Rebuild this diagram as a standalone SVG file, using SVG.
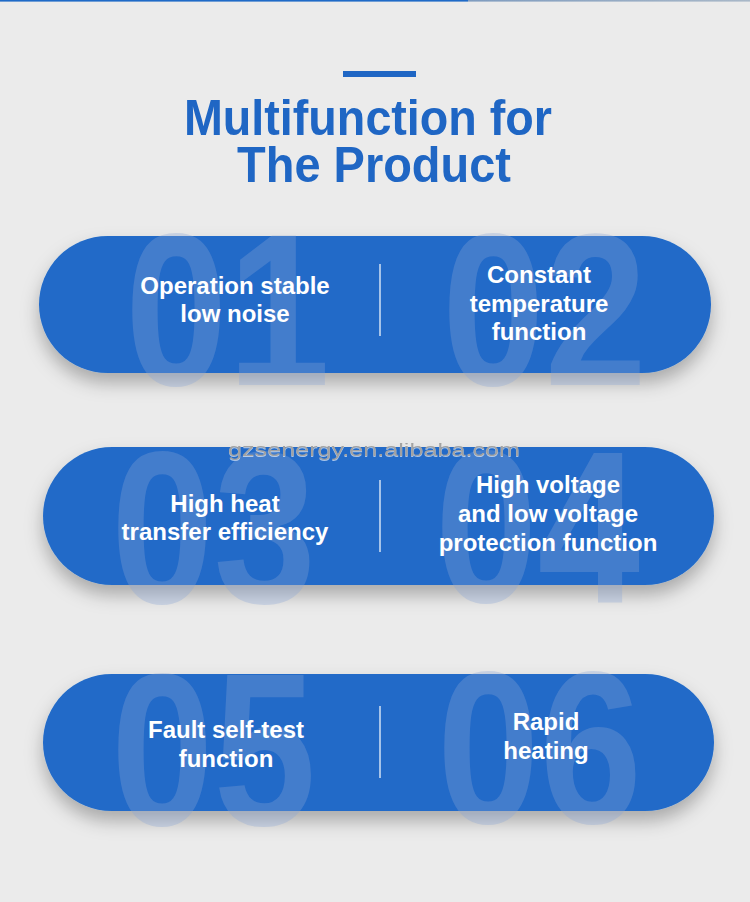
<svg xmlns="http://www.w3.org/2000/svg" width="750" height="902" viewBox="0 0 750 902">
<defs>
<linearGradient id="topfade" x1="0" y1="0" x2="1" y2="0">
<stop offset="0" stop-color="#7f9cbf"/>
<stop offset="1" stop-color="#a9b8c8"/>
</linearGradient>
<filter id="shadow" x="-10%" y="-20%" width="120%" height="160%">
<feDropShadow dx="0" dy="10" stdDeviation="9" flood-color="#000" flood-opacity="0.28"/>
</filter>
<filter id="wm" x="-5%" y="-30%" width="110%" height="160%">
<feDropShadow dx="0" dy="1" stdDeviation="0.6" flood-color="#ffffff" flood-opacity="0.6"/>
</filter>
<style>
.pill{fill:#216bc8;filter:url(#shadow);}
.num{font-family:"Liberation Sans",Arial,sans-serif;font-weight:bold;font-size:218px;fill:#8aa6d8;fill-opacity:0.32;}
.lbl{font-family:"Liberation Sans",Arial,sans-serif;font-weight:bold;font-size:24px;fill:#ffffff;text-anchor:middle;}
.div{stroke:#ffffff;stroke-width:1.2;}
.title{font-family:"Liberation Sans",Arial,sans-serif;font-weight:bold;font-size:50px;fill:#1f66c4;text-anchor:middle;}
</style>
</defs>
<rect x="0" y="0" width="750" height="902" fill="#ebebeb"/>
<rect x="0" y="0" width="468" height="1.6" fill="#1f6ac7"/>
<rect x="468" y="0" width="282" height="1.6" fill="url(#topfade)"/>

<g id="header">
<rect x="343" y="71" width="73" height="6" fill="#1f66c4"/>
<text class="title" x="368" y="135" textLength="368" lengthAdjust="spacingAndGlyphs">Multifunction for</text>
<text class="title" x="374" y="182" textLength="274" lengthAdjust="spacingAndGlyphs">The Product</text>
</g>

<g id="row1">
<rect class="pill" x="39" y="236" width="672" height="137" rx="68.5"/>
<g id="f01">
<text class="num" x="125" y="385" textLength="205" lengthAdjust="spacingAndGlyphs">01</text>
<text class="lbl" x="235" y="294">Operation stable</text>
<text class="lbl" x="235" y="322">low noise</text>
</g>
<line class="div" x1="380" y1="264" x2="380" y2="336"/>
<g id="f02">
<text class="num" x="442" y="385" textLength="205" lengthAdjust="spacingAndGlyphs">02</text>
<text class="lbl" x="539" y="283">Constant</text>
<text class="lbl" x="539" y="311.5">temperature</text>
<text class="lbl" x="539" y="340">function</text>
</g>
</g>

<g id="row2">
<rect class="pill" x="43" y="447" width="671" height="138" rx="69"/>
<g id="f03">
<text class="num" x="111" y="603" textLength="205" lengthAdjust="spacingAndGlyphs">03</text>
<text class="lbl" x="225" y="511.5">High heat</text>
<text class="lbl" x="225" y="540">transfer efficiency</text>
</g>
<line class="div" x1="380" y1="480" x2="380" y2="552"/>
<g id="f04">
<text class="num" x="435" y="602" textLength="205" lengthAdjust="spacingAndGlyphs">04</text>
<text class="lbl" x="548" y="493">High voltage</text>
<text class="lbl" x="548" y="522">and low voltage</text>
<text class="lbl" x="548" y="551">protection function</text>
</g>
</g>

<g id="row3">
<rect class="pill" x="43" y="674" width="671" height="137" rx="68.5"/>
<g id="f05">
<text class="num" x="111" y="825" textLength="205" lengthAdjust="spacingAndGlyphs">05</text>
<text class="lbl" x="226" y="738">Fault self-test</text>
<text class="lbl" x="226" y="767">function</text>
</g>
<line class="div" x1="380" y1="706" x2="380" y2="778"/>
<g id="f06">
<text class="num" x="437" y="823" textLength="205" lengthAdjust="spacingAndGlyphs">06</text>
<text class="lbl" x="546" y="730">Rapid</text>
<text class="lbl" x="546" y="759">heating</text>
</g>
</g>

<g id="watermark">
<text x="374" y="456" font-family="'Liberation Sans',Arial,sans-serif" font-size="19" fill="#a2a2a2" text-anchor="middle" textLength="292" lengthAdjust="spacingAndGlyphs" filter="url(#wm)">gzsenergy.en.alibaba.com</text>
</g>
</svg>
